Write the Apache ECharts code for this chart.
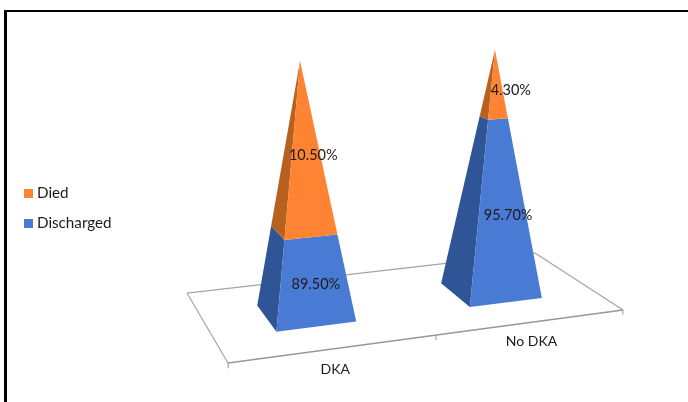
<!DOCTYPE html>
<html>
<head>
<meta charset="utf-8">
<style>
  html, body { margin: 0; padding: 0; background: #fff; }
  #chart { width: 688px; height: 402px; }
</style>
<script src="https://cdn.jsdelivr.net/npm/echarts@6/dist/echarts.min.js"></script>
</head>
<body>
<div id="chart"></div>
<script>
const categories = ['DKA', 'No DKA'];
const seriesNames = ['Died', 'Discharged'];

// printed labels
const diedLabels = ['10.50%', '4.30%'];
const dischargedLabels = ['89.50%', '95.70%'];

// height of each pyramid section as drawn, % of pyramid height.
// the picture does not draw them at the printed percentages, so they are read separately
const dischargedHeight = [34.2, 73.1];
const diedHeight = [65.8, 26.9];

const COLORS = {
  died: '#fe8433',
  diedSide: '#b8611f',
  discharged: '#4a7bd4',
  dischargedSide: '#2f5597',
  floor: '#a4a4a4',
  floorFront: '#979797',
  text: '#1c1c1c',
};
const FONT = 'Lato, "Open Sans", sans-serif';

// footprint of a pyramid on the floor: half width in category units, depth range
const HALF_WIDTH = 0.2;
const DEPTH_FRONT = 0.3;
const DEPTH_BACK = 0.69;

// perspective: u = category position (0..2), t = depth (0..1), v = value (0..100)
// result is in axis units, api.coord does the rest
function project(u, t, v) {
  const d = 1 + 0.0566 * u + 0.1637 * t - 0.00059 * v;
  return [
    (1.1132 * u - 0.2416 * t - 0.000539 * v) / d,
    (9.424 * u + 26.01 * t + 0.8373 * v) / d,
  ];
}

// point on a pyramid edge at height v (edges run straight up to the apex)
function edgePoint(center, du, t, v) {
  const k = 1 - v / 100;
  const midT = (DEPTH_FRONT + DEPTH_BACK) / 2;
  return project(center + du * k, midT + (t - midT) * k, v);
}

function sectionItem(frontColor, sideColor, labels) {
  return (params, api) => {
    const i = api.value(0);
    const from = api.value(1);
    const to = api.value(2);
    const center = i + 0.5;
    const pt = (du, t, v) => api.coord(edgePoint(center, du, t, v));
    const lp = api.coord(project(center, DEPTH_FRONT, (from + to) / 2));
    return {
      type: 'group',
      children: [
        {
          type: 'polygon',
          shape: { points: [
            pt(-HALF_WIDTH, DEPTH_BACK, from), pt(-HALF_WIDTH, DEPTH_FRONT, from),
            pt(-HALF_WIDTH, DEPTH_FRONT, to), pt(-HALF_WIDTH, DEPTH_BACK, to),
          ] },
          style: { fill: sideColor },
        },
        {
          type: 'polygon',
          shape: { points: [
            pt(-HALF_WIDTH, DEPTH_FRONT, from), pt(HALF_WIDTH, DEPTH_FRONT, from),
            pt(HALF_WIDTH, DEPTH_FRONT, to), pt(-HALF_WIDTH, DEPTH_FRONT, to),
          ] },
          style: { fill: frontColor },
        },
        {
          type: 'text',
          style: {
            text: labels[i], x: lp[0], y: lp[1],
            fill: COLORS.text, font: '14.5px ' + FONT,
            align: 'center', verticalAlign: 'middle',
          },
        },
      ],
    };
  };
}

function floorItem(params, api) {
  const c = (u, t, v) => api.coord(project(u, t, v || 0));
  const line = (p1, p2, color, width) => ({
    type: 'line',
    shape: { x1: p1[0], y1: p1[1], x2: p2[0], y2: p2[1] },
    style: { stroke: color, lineWidth: width },
  });
  const children = [
    line(c(0, 1), c(2, 1), COLORS.floor, 1.2),
    line(c(0, 0), c(0, 1), COLORS.floor, 1.2),
    line(c(2, 0), c(2, 1), COLORS.floor, 1.2),
    line(c(0, 0), c(2, 0), COLORS.floorFront, 1.4),
  ];
  [0, 1, 2].forEach((u) => {
    children.push(line(c(u, 0), c(u, 0, -2), COLORS.floorFront, 1));
  });
  categories.forEach((name, i) => {
    const p = c(i + 0.5, 0, -8);
    children.push({
      type: 'text',
      style: {
        text: name, x: p[0], y: p[1],
        fill: COLORS.text, font: '14px ' + FONT,
        align: 'center', verticalAlign: 'middle',
      },
    });
  });
  return { type: 'group', children };
}

const chart = echarts.init(document.getElementById('chart'), null, { renderer: 'canvas' });

const option = {
  animation: false,
  backgroundColor: '#fff',
  // black frame of the picture
  graphic: [
    { type: 'rect', shape: { x: 4, y: 10, width: 684, height: 2 }, style: { fill: '#000' } },
    { type: 'rect', shape: { x: 4, y: 10, width: 3, height: 392 }, style: { fill: '#000' } },
  ],
  legend: {
    data: seriesNames,
    orient: 'vertical',
    left: 24,
    top: 186,
    padding: 0,
    itemWidth: 9,
    itemHeight: 9,
    itemGap: 15,
    icon: 'rect',
    textStyle: { color: '#1c1c1c', fontSize: 15.2, fontFamily: FONT, padding: [0, 0, 0, -1] },
  },
  grid: { left: 228, right: 65, top: 50, bottom: 39 },
  xAxis: { type: 'value', min: 0, max: 2, show: false },
  yAxis: { type: 'value', min: 0, max: 100, show: false },
  series: [
    {
      type: 'custom',
      name: 'floor',
      silent: true,
      clip: false,
      renderItem: floorItem,
      data: [[0, 0]],
      z: 1,
    },
    {
      type: 'custom',
      name: seriesNames[1],
      clip: false,
      itemStyle: { color: COLORS.discharged },
      renderItem: sectionItem(COLORS.discharged, COLORS.dischargedSide, dischargedLabels),
      encode: { x: 0, y: 2 },
      data: categories.map((c, i) => [i, 0, dischargedHeight[i]]),
      z: 2,
    },
    {
      type: 'custom',
      name: seriesNames[0],
      clip: false,
      itemStyle: { color: COLORS.died },
      renderItem: sectionItem(COLORS.died, COLORS.diedSide, diedLabels),
      encode: { x: 0, y: 2 },
      data: categories.map((c, i) => [i, dischargedHeight[i], dischargedHeight[i] + diedHeight[i]]),
      z: 3,
    },
  ],
};

chart.setOption(option);
</script>
</body>
</html>
